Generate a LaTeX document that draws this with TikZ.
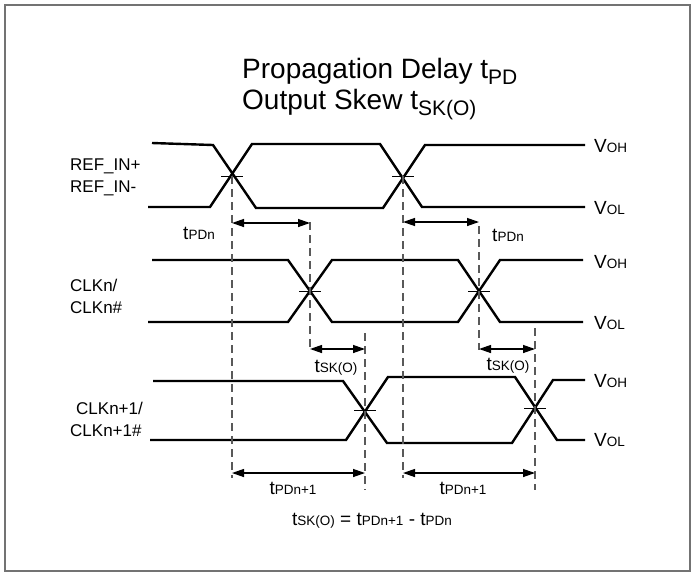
\documentclass[tikz,border=0pt]{standalone}
\usepackage{fontspec}
\setmainfont{Liberation Sans}
\usetikzlibrary{arrows.meta}

% label text: large first letter, smaller rest
\newcommand{\lvl}[2]{{\fontsize{19}{21}\selectfont #1{\fontsize{13.5}{15}\selectfont #2}}}
\newcommand{\ttlsub}[1]{\raisebox{-6pt}{\fontsize{21}{24}\selectfont #1}}

\tikzset{
  signal/.style={line width=2.4pt, line join=miter},
  guide/.style={black!65, line width=1.1pt, dash pattern=on 8pt off 5pt},
  span/.style={line width=1.3pt, {Triangle[length=12pt,width=8pt]}-{Triangle[length=12pt,width=8pt]}},
  cross/.style={line width=0.8pt},
  signame/.style={font=\fontsize{17}{19}\selectfont, anchor=base west, inner sep=0pt},
  level/.style={anchor=west, inner sep=0pt}
}

\begin{document}
\begin{tikzpicture}[x=1pt,y=-1pt]
    \useasboundingbox (0,0) rectangle (695,576);
    \draw [black!55, line width=1.5pt] (5,5) rectangle (690,571);

    % title
    \node [anchor=base west, inner sep=0pt, font=\fontsize{28}{32}\selectfont] (title1) at (242,78) {Propagation Delay t\ttlsub{PD}};
    \node [anchor=base west, inner sep=0pt, font=\fontsize{28}{32}\selectfont] (title2) at (242,109) {Output Skew t\ttlsub{SK(O)}};

    % signal names
    \node [signame] (refp) at (70,170) {REF\_IN+};
    \node [signame] (refm) at (70,192) {REF\_IN-};
    \node [signame] (clkn) at (70,291) {CLKn/};
    \node [signame] (clknb) at (70,313) {CLKn\#};
    \node [signame] (clkm) at (76,414) {CLKn+1/};
    \node [signame] (clkmb) at (70,436) {CLKn+1\#};

    % crossing points
    \coordinate (r1) at (232,176);
    \coordinate (r2) at (403,176);
    \coordinate (c1) at (310,291);
    \coordinate (c2) at (479,291);
    \coordinate (d1) at (365,410);
    \coordinate (d2) at (535,408);

    % REF_IN
    \draw [signal] (152,143) -- (213,145) -- (256,208) -- (383,208) -- (425,145) -- (585,145);
    \draw [signal] (148,207) -- (210,207) -- (252,144) -- (380,144) -- (422,207) -- (585,207);
    % CLKn
    \draw [signal] (152,260) -- (288,260) -- (332,322) -- (458,322) -- (500,260) -- (583,260);
    \draw [signal] (148,322) -- (288,322) -- (332,260) -- (458,260) -- (500,322) -- (583,322);
    % CLKn+1
    \draw [signal] (153,381) -- (343,381) -- (387,443) -- (512,443) -- (553,380) -- (585,380);
    \draw [signal] (150,440) -- (346,440) -- (388,377) -- (515,377) -- (557,440) -- (585,440);

    \foreach \p in {r1,r2,c1,c2,d1,d2}
        \draw [cross] ([xshift=-11pt]\p) -- ([xshift=11pt]\p);

    % levels
    \node [level] (oh1) at (594,146) {\lvl{V}{OH}};
    \node [level] (ol1) at (594,208) {\lvl{V}{OL}};
    \node [level] (oh2) at (594,262) {\lvl{V}{OH}};
    \node [level] (ol2) at (594,323) {\lvl{V}{OL}};
    \node [level] (oh3) at (594,381) {\lvl{V}{OH}};
    \node [level] (ol3) at (594,440) {\lvl{V}{OL}};

    % guide lines
    \draw [guide] (r1) -- (r1 |- 0,478);
    \draw [guide] (r2) -- (r2 |- 0,478);
    \draw [guide] (c1 |- 0,222) -- (c1 |- 0,350);
    \draw [guide] (c2 |- 0,226) -- (c2 |- 0,350);
    \draw [guide] (d1 |- 0,333) -- (d1 |- 0,490);
    \draw [guide] (d2 |- 0,328) -- (d2 |- 0,490);

    % delays
    \draw [span] (r1 |- 0,223) -- (c1 |- 0,223);
    \draw [span] (r2 |- 0,222) -- (c2 |- 0,222);
    \draw [span] (c1 |- 0,349) -- (d1 |- 0,349);
    \draw [span] (c2 |- 0,349) -- (d2 |- 0,349);
    \draw [span] (r1 |- 0,473) -- (d1 |- 0,473);
    \draw [span] (r2 |- 0,473) -- (d2 |- 0,473);

    \node (tpd1) at (199,233) {\lvl{t}{PDn}};
    \node (tpd2) at (508,235) {\lvl{t}{PDn}};
    \node (tsk1) at (336,368) {\lvl{t}{SK(O)}};
    \node (tsk2) at (508,366) {\lvl{t}{SK(O)}};
    \node (tpm1) at (293,488) {\lvl{t}{PDn+1}};
    \node (tpm2) at (463,488) {\lvl{t}{PDn+1}};

    \node [font=\fontsize{19}{21}\selectfont] (skew) at (372,521) {\lvl{t}{SK(O)} = \lvl{t}{PDn+1} - \lvl{t}{PDn}};
\end{tikzpicture}
\end{document}
